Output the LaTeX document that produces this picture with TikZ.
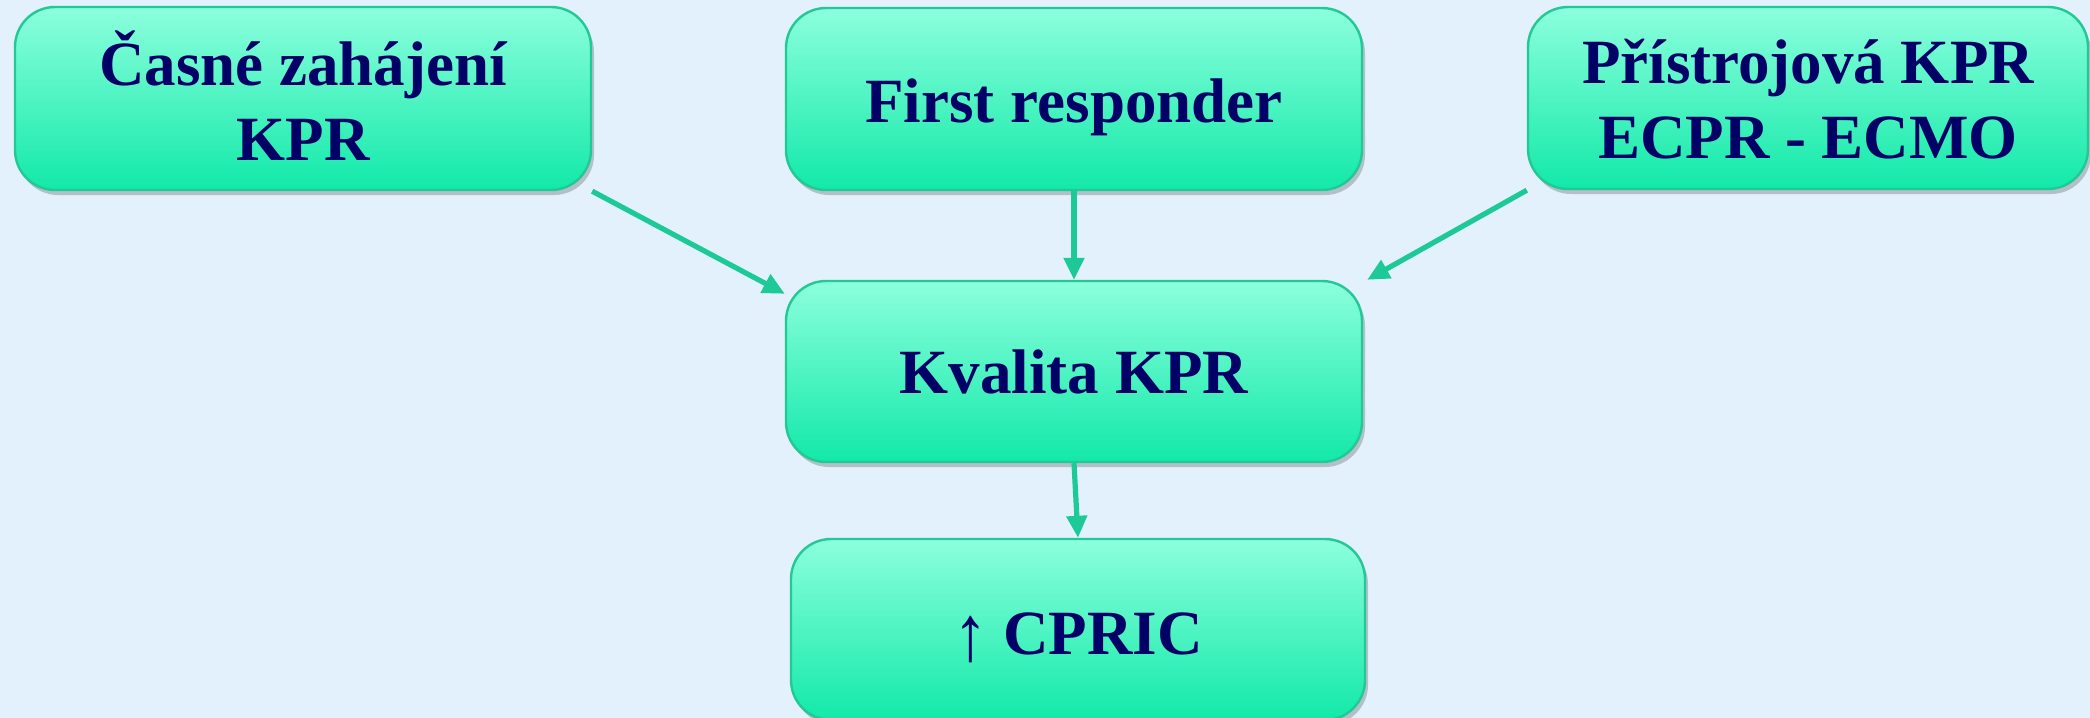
\documentclass[tikz,border=0pt]{standalone}
\usepackage{fontspec}
\setmainfont{Liberation Serif}
\usetikzlibrary{arrows.meta,shadows}
\definecolor{bgc}{HTML}{E3F1FD}
\definecolor{boxtop}{HTML}{8CFFDD}
\definecolor{boxbot}{HTML}{12E9A8}
\definecolor{boxedge}{HTML}{22C895}
\definecolor{txtc}{HTML}{000066}
\definecolor{arrc}{HTML}{1DC997}
\tikzset{
  flowbox/.style={draw=boxedge, line width=1.2pt, rounded corners=20pt,
    top color=boxtop, bottom color=boxbot, inner sep=0pt, align=center,
    text=txtc, font=\fontsize{31.5}{37.5}\selectfont\bfseries,
    drop shadow={shadow xshift=1.5pt, shadow yshift=-2.5pt, opacity=0.3, fill=black!70}},
  flowarrow/.style={draw=arrc, line width=2.6pt, -{Triangle[length=11pt,width=10pt]}}
}
\begin{document}
\begin{tikzpicture}[x=0.5pt,y=-0.5pt]
\fill[bgc] (0,0) rectangle (2090,718);
\useasboundingbox (0,0) rectangle (2090,718);
\node[flowbox, minimum width=288pt, minimum height=91.5pt] (b1) at (303,98.5)
  {\raisebox{6.75pt}[0pt][0pt]{\begin{tabular}[t]{@{}c@{}}Časné zahájení\\KPR\end{tabular}}};
\node[flowbox, minimum width=288pt, minimum height=91pt] (b2) at (1074,99)
  {\raisebox{-11.5pt}[0pt][0pt]{First responder}};
\node[flowbox, minimum width=280pt, minimum height=91pt] (b3) at (1808,98)
  {\raisebox{7.5pt}[0pt][0pt]{\begin{tabular}[t]{@{}c@{}}Přístrojová KPR\\ECPR - ECMO\end{tabular}}};
\node[flowbox, minimum width=288pt, minimum height=90.5pt] (kv) at (1074,371.5)
  {\raisebox{-10.75pt}[0pt][0pt]{Kvalita KPR}};
\node[flowbox, minimum width=287pt, minimum height=90.5pt] (cp) at (1078,629.5)
  {\raisebox{-12.25pt}[0pt][0pt]{{\mdseries\raisebox{-3pt}{\scalebox{1.1}[1.25]{\char"2191}}} CPRIC}};
\draw[flowarrow] (b1.south east) -- ([yshift=-7pt]kv.north west);
\draw[flowarrow] (b2.south) -- (kv.north);
\draw[flowarrow] (b3.south west) -- ([xshift=2pt]kv.north east);
\draw[flowarrow] (kv.south) -- (cp.north);
\end{tikzpicture}
\end{document}
